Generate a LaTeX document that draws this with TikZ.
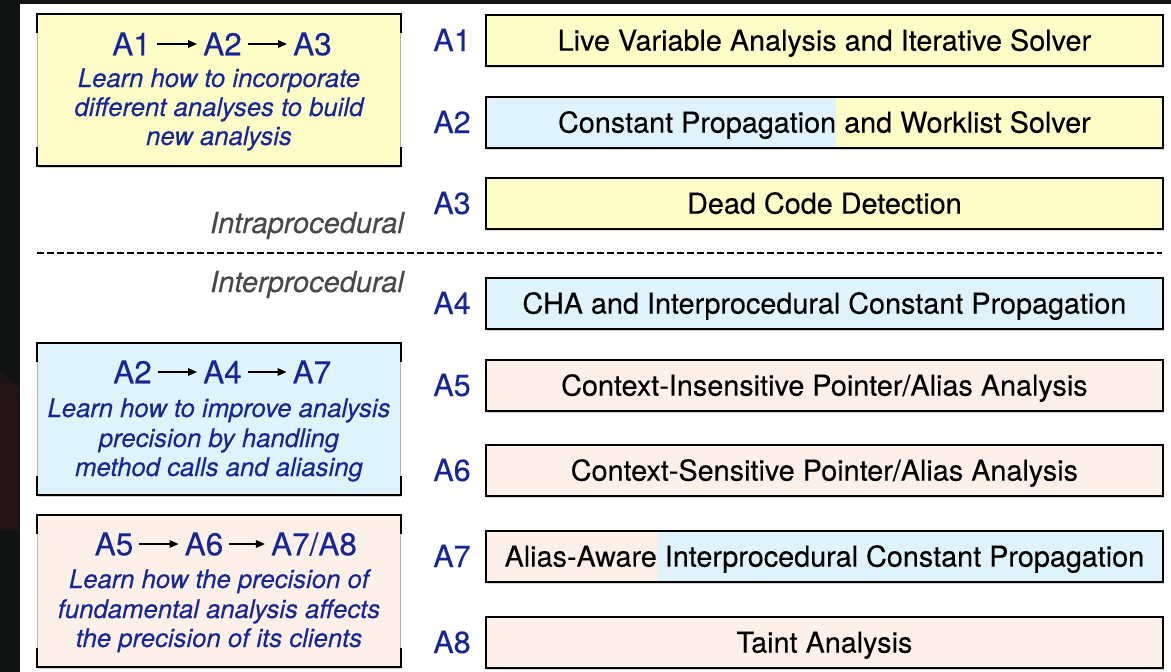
\documentclass[tikz,border=0pt]{standalone}
\usepackage{fontspec}
\setmainfont{TeX Gyre Heros}[FakeBold=0.2]
\usetikzlibrary{shadows,arrows.meta}

\definecolor{pageDark}{RGB}{17,18,18}
\definecolor{pageRed}{RGB}{34,20,22}
\definecolor{boxYellow}{RGB}{254,253,200}
\definecolor{boxBlue}{RGB}{223,243,253}
\definecolor{boxPeach}{RGB}{253,240,232}
\definecolor{labelBlue}{RGB}{22,38,150}
\definecolor{noteGray}{RGB}{72,72,72}

\tikzset{
  softshadow/.style={drop shadow={shadow xshift=1pt, shadow yshift=-2.5pt, opacity=0.35}},
  taskbox/.style={draw=black, line width=1.8pt, minimum width=677pt, minimum height=51pt,
    anchor=north west, inner sep=0pt, text height=20.5pt, text depth=0pt,
    font=\fontsize{28.8}{30}\selectfont, softshadow},
  tag/.style={text=labelBlue, inner sep=0pt, text height=22pt, text depth=0pt,
    font=\fontsize{30.5}{32}\selectfont},
  card/.style={draw=black!30, line width=0.6pt, minimum width=363pt, minimum height=151pt,
    anchor=north west, inner sep=0pt, softshadow},
  cardedge/.style={draw=black, line width=2pt},
  head/.style={text=labelBlue, inner sep=0pt, text height=22.5pt, text depth=0pt,
    font=\fontsize{31.5}{33}\selectfont},
  flow/.style={draw=black, line width=1.6pt, -{Triangle[length=9pt,width=7.5pt]},
    shorten <=6pt, shorten >=6pt},
  note/.style={text=labelBlue, inner sep=0pt, anchor=base,
    font=\fontsize{25.7}{29}\selectfont\itshape},
  divnote/.style={text=noteGray, inner sep=0pt, anchor=base east,
    font=\fontsize{29}{31}\selectfont\itshape},
  divider/.style={draw=black, line width=1.8pt, dash pattern=on 6.5pt off 3.5pt},
}

\newcommand{\cardbrackets}[1]{%
  \draw[cardedge] ([yshift=-19pt]#1.north west) -- (#1.north west) -- (#1.north east) -- ([yshift=-19pt]#1.north east);
  \draw[cardedge] ([yshift=19pt]#1.south west) -- (#1.south west) -- (#1.south east) -- ([yshift=19pt]#1.south east);
}

\begin{document}
\begin{tikzpicture}[x=1pt, y=-1pt]
  \useasboundingbox (0,0) rectangle (1171,672);

  % page backdrop
  \fill[pageDark] (0,0) rectangle (1171,672);
  \fill[pageRed] (0,372) -- (20,388) -- (20,530) -- (0,530) -- cycle;
  \fill[white] (20,4) rectangle (1171,672);

  % split points of the two-coloured bars
  \coordinate (splitTwo) at (836,0);
  \coordinate (splitSeven) at (658,0);

  % assignment bars
  \node[taskbox, fill=boxYellow] (bar1) at (485,14) {Live Variable Analysis and Iterative Solver};
  \node[taskbox, fill=boxYellow,
        path picture={\fill[boxBlue] (path picture bounding box.north west) rectangle (path picture bounding box.south west -| splitTwo);}]
        (bar2) at (485,96) {Constant Propagation and Worklist Solver};
  \node[taskbox, fill=boxYellow] (bar3) at (485,177) {Dead Code Detection};
  \node[taskbox, fill=boxBlue] (bar4) at (485,277) {CHA and Interprocedural Constant Propagation};
  \node[taskbox, fill=boxPeach] (bar5) at (485,359) {Context-Insensitive Pointer/Alias Analysis};
  \node[taskbox, fill=boxPeach] (bar6) at (485,444) {Context-Sensitive Pointer/Alias Analysis};
  \node[taskbox, fill=boxBlue,
        path picture={\fill[boxPeach] (path picture bounding box.north west) rectangle (path picture bounding box.south west -| splitSeven);}]
        (bar7) at (485,530) {Alias-Aware Interprocedural Constant Propagation};
  \node[taskbox, fill=boxPeach] (bar8) at (485,616) {Taint Analysis};

  % assignment tags
  \node[tag] (tag1) at (452,40) {A1};
  \node[tag] (tag2) at (452,122) {A2};
  \node[tag] (tag3) at (452,203) {A3};
  \node[tag] (tag4) at (452,303) {A4};
  \node[tag] (tag5) at (452,385) {A5};
  \node[tag] (tag6) at (452,470) {A6};
  \node[tag] (tag7) at (452,556) {A7};
  \node[tag] (tag8) at (452,642) {A8};

  % intra/inter divider
  \coordinate (divL) at (37,253);
  \coordinate (divR) at (1162,253);
  \draw[divider] (divL) -- (divR);
  \node[divnote] (intra) at (404,233) {Intraprocedural};
  \node[divnote] (inter) at (404,292) {Interprocedural};

  % learning-path cards
  \node[card, fill=boxYellow] (card1) at (37,14) {};
  \node[card, fill=boxBlue] (card2) at (37,343) {};
  \node[card, fill=boxPeach] (card3) at (37,515) {};
  \cardbrackets{card1}
  \cardbrackets{card2}
  \cardbrackets{card3}

  % card 1
  \node[head] (p1a) at (131.5,44) {A1};
  \node[head] (p1b) at (222.5,44) {A2};
  \node[head] (p1c) at (312.5,44) {A3};
  \draw[flow] (p1a) -- (p1b);
  \draw[flow] (p1b) -- (p1c);
  \node[note] (n1a) at (219,87) {Learn how to incorporate};
  \node[note] (n1b) at (219,116) {different analyses to build};
  \node[note] (n1c) at (219,145) {new analysis};

  % card 2
  \node[head] (p2a) at (132.5,372) {A2};
  \node[head] (p2b) at (222.5,372) {A4};
  \node[head] (p2c) at (312,372) {A7};
  \draw[flow] (p2a) -- (p2b);
  \draw[flow] (p2b) -- (p2c);
  \node[note] (n2a) at (219,417) {Learn how to improve analysis};
  \node[note] (n2b) at (219,447) {precision by handling};
  \node[note] (n2c) at (219,476) {method calls and aliasing};

  % card 3
  \node[head] (p3a) at (114,544) {A5};
  \node[head] (p3b) at (204,544) {A6};
  \node[head] (p3c) at (314,544) {A7/A8};
  \draw[flow] (p3a) -- (p3b);
  \draw[flow] (p3b) -- (p3c);
  \node[note] (n3a) at (219,588) {Learn how the precision of};
  \node[note] (n3b) at (219,618) {fundamental analysis affects};
  \node[note] (n3c) at (219,647) {the precision of its clients};
\end{tikzpicture}
\end{document}
